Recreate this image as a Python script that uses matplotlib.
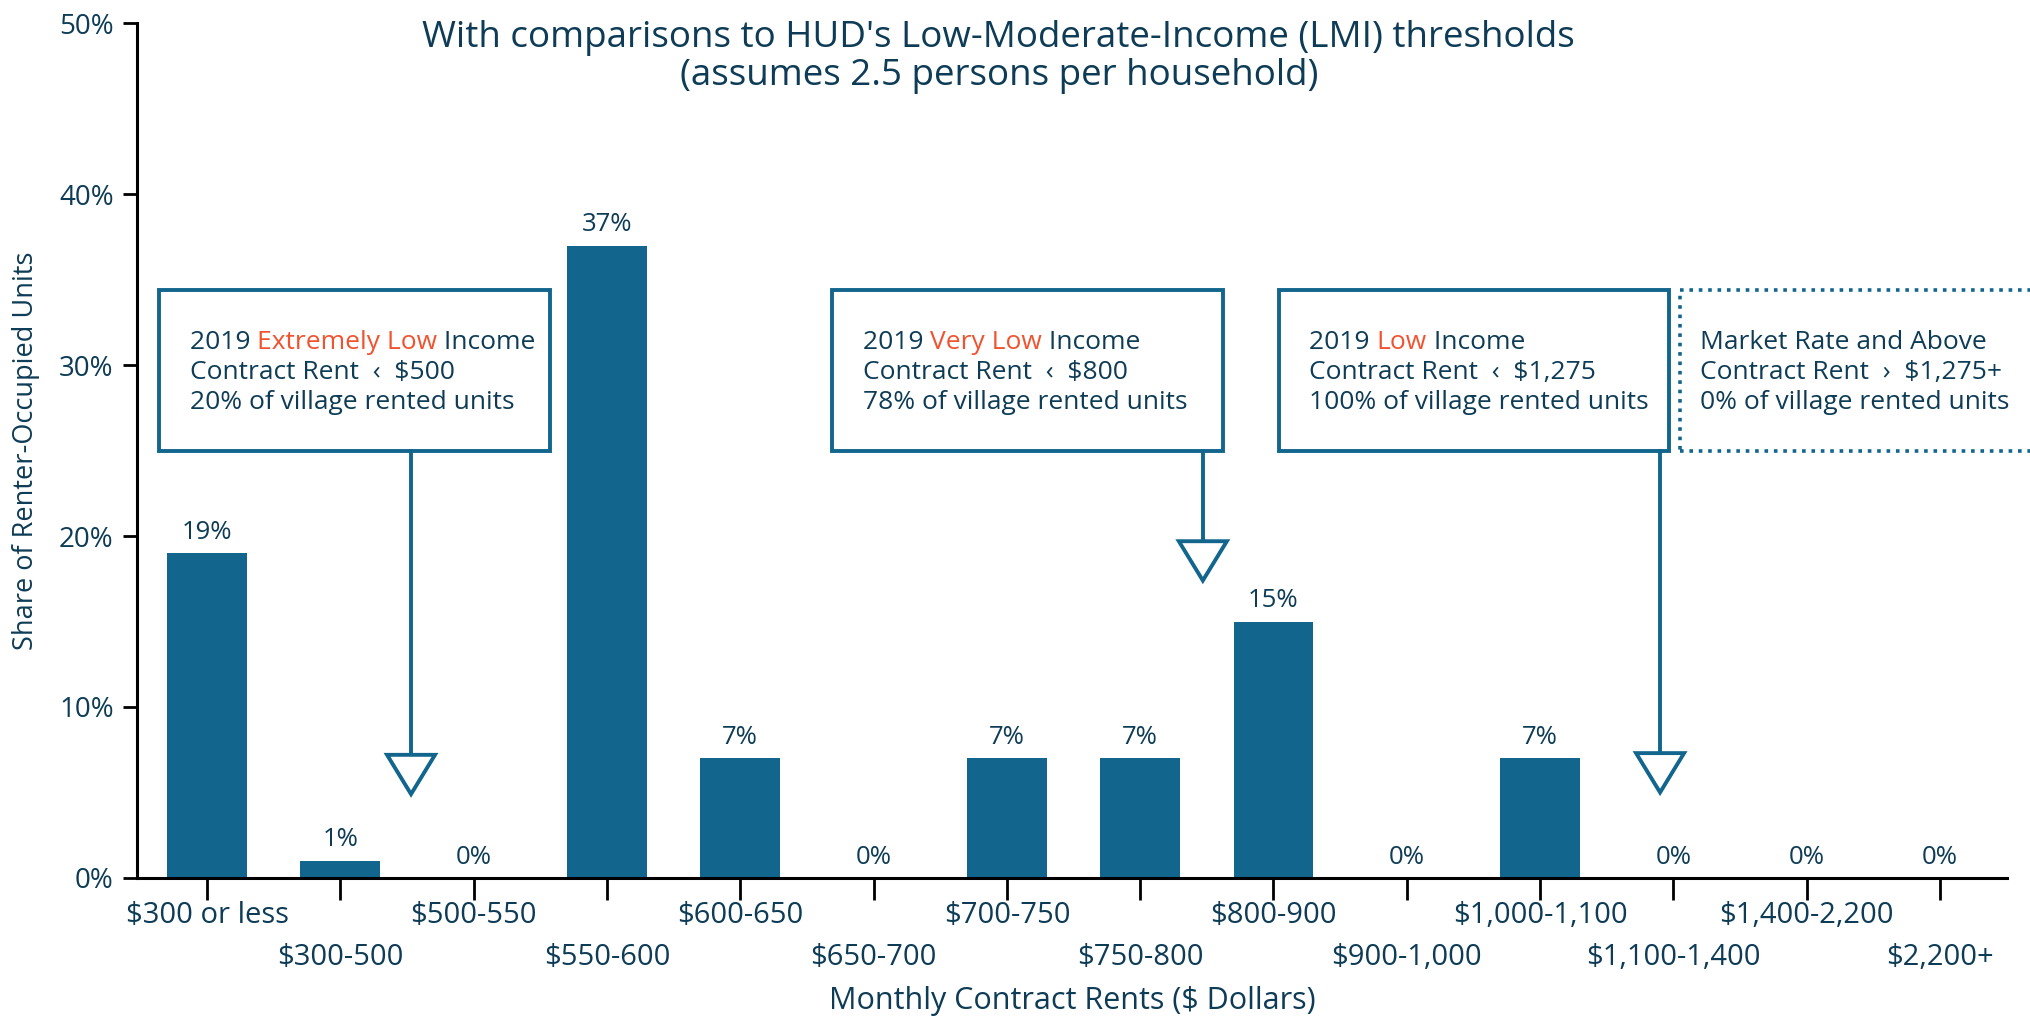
"""Contract rent distribution vs HUD LMI thresholds."""

import matplotlib

matplotlib.use("Agg")
import matplotlib.pyplot as plt
from matplotlib.patches import Rectangle, Polygon

CATEGORIES = ["$300 or less", "$300-500", "$500-550", "$550-600", "$600-650",
              "$650-700", "$700-750", "$750-800", "$800-900", "$900-1,000",
              "$1,000-1,100", "$1,100-1,400", "$1,400-2,200", "$2,200+"]
SHARES = [19, 1, 0, 37, 7, 0, 7, 7, 15, 0, 7, 0, 0, 0]

# threshold boxes: (prefix, highlight, suffix), line 2, line 3
BOX_HEAD = [("2019 ", "Extremely Low", " Income"),
            ("2019 ", "Very Low", " Income"),
            ("2019 ", "Low", " Income"),
            ("Market Rate and Above", "", "")]
BOX_RENT = ["Contract Rent  \u2039  $500", "Contract Rent  \u2039  $800",
            "Contract Rent  \u2039  $1,275", "Contract Rent  \u203a  $1,275+"]
BOX_SHARE = ["20% of village rented units", "78% of village rented units",
             "100% of village rented units", "0% of village rented units"]

BAR_C = "#12668E"
TXT_C = "#0E3C56"
HI_C = "#F05330"

plt.rcParams["font.family"] = ["Open Sans", "DejaVu Sans"]

fig = plt.figure(figsize=(20.3, 10.19), dpi=100)
ax = fig.add_axes([0.0676, 0.1385, 0.9209, 0.8385])

x = list(range(len(CATEGORIES)))
ax.bar(x, SHARES, 0.6, color=BAR_C)
for xi, v in zip(x, SHARES):
    ax.annotate(f"{v}%", (xi, v), xytext=(0, 15), textcoords="offset points",
                ha="center", va="center", fontsize=18.5, color=TXT_C)

ax.set_xlim(-0.524, 13.5)
ax.set_ylim(0, 50)
ax.set_yticks(range(0, 51, 10))
ax.set_yticklabels([f"{v}%" for v in range(0, 51, 10)])
ax.set_xticks(x)
ax.set_xticklabels(CATEGORIES)
ax.tick_params(axis="y", length=10, width=2, pad=7, labelsize=20,
               labelcolor=TXT_C)
ax.tick_params(axis="x", length=16, width=2, pad=1, labelsize=21,
               labelcolor=TXT_C)
for t in ax.xaxis.get_major_ticks()[1::2]:
    t.set_pad(31)
for s in ("top", "right"):
    ax.spines[s].set_visible(False)
for s in ("left", "bottom"):
    ax.spines[s].set_linewidth(2.2)

ax.set_xlabel("Monthly Contract Rents ($ Dollars)", fontsize=22, color=TXT_C,
              va="center")
ax.xaxis.set_label_coords(0.5, -0.144)
ax.set_ylabel("Share of Renter-Occupied Units", fontsize=19.5, color=TXT_C,
              va="center")
ax.yaxis.set_label_coords(-0.0596, 0.5)

fig.text(0.492, 0.944,
         "With comparisons to HUD's Low-Moderate-Income (LMI) thresholds\n"
         "(assumes 2.5 persons per household)",
         ha="center", va="center", fontsize=26.5, color=TXT_C, linespacing=1.1)

# boxes
box_left = [-0.36, 4.69, 8.04, 11.05]
box_w = 2.93
box_bot, box_top = 25.0, 34.4
arrow_x = [1.53, 7.47, 10.9]
arrow_top = [7.2, 19.7, 7.3]
tri_h, tri_hw = 2.3, 0.18
lw = 2.8
fs = 19

for i, left in enumerate(box_left):
    dotted = i == 3
    ax.add_patch(Rectangle((left, box_bot), box_w, box_top - box_bot,
                           fill=False, edgecolor=BAR_C, lw=lw if not dotted else 2.6,
                           ls=(0, (1, 1.6)) if dotted else "-", clip_on=False,
                           zorder=3))
    tx = left + 0.23 if i < 3 else left + 0.15
    pre, hi, post = BOX_HEAD[i]
    t = ax.text(tx, 31.35, pre, fontsize=fs, color=TXT_C, va="center")
    if hi:
        t = ax.annotate(hi, xycoords=t, xy=(1, 0), va="bottom",
                        fontsize=fs, color=HI_C)
        ax.annotate(post, xycoords=t, xy=(1, 0), va="bottom",
                    fontsize=fs, color=TXT_C)
    ax.text(tx, 29.6, BOX_RENT[i], fontsize=fs, color=TXT_C, va="center")
    ax.text(tx, 27.8, BOX_SHARE[i], fontsize=fs, color=TXT_C, va="center")

for ax_x, top in zip(arrow_x, arrow_top):
    ax.plot([ax_x, ax_x], [box_bot, top], color=BAR_C, lw=lw, zorder=3,
            clip_on=False)
    ax.add_patch(Polygon([(ax_x - tri_hw, top), (ax_x + tri_hw, top),
                          (ax_x, top - tri_h)], closed=True, facecolor="white",
                         edgecolor=BAR_C, lw=lw, zorder=4, joinstyle="miter"))

fig.savefig("out.png", dpi=100)
